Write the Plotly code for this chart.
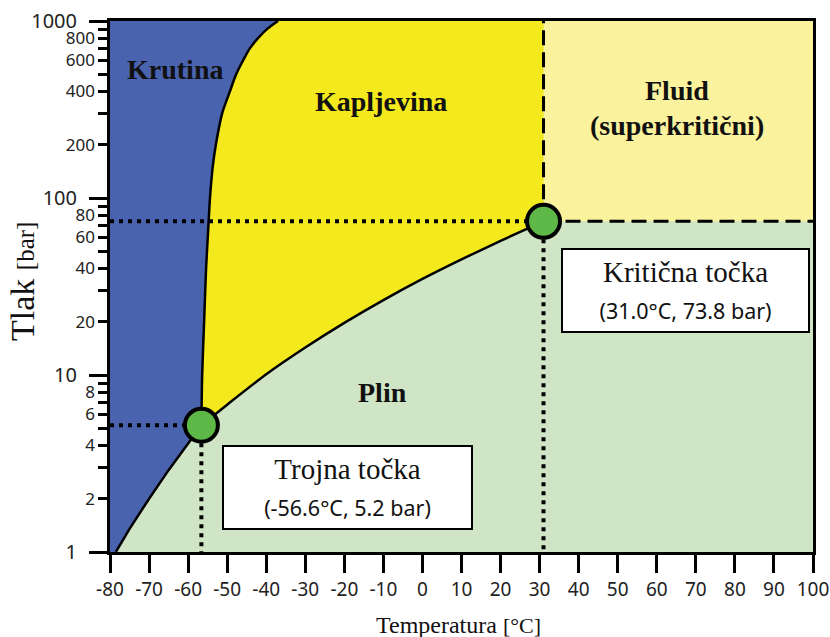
import plotly.graph_objects as go

# ---- data ----
T_MIN, T_MAX = -80, 100          # axis range, degC
P_MIN, P_MAX = 1, 1000           # axis range, bar

triple_T, triple_P = -56.6, 5.2
crit_T, crit_P = 31.0, 73.8

# solid-gas (sublimation) boundary
sub_T = [-78.5, -75, -70, -65, -60, -56.6]
sub_P = [1.0, 1.35, 2.0, 2.9, 4.1, 5.2]

# solid-liquid (melting) boundary
melt_T = [-56.6, -56.4, -55.9, -55.4, -54.8, -54.4, -53.7, -52.9, -51.3, -49.3, -47.7,
          -45.9, -44.2, -42.1, -39.8, -37.0]
melt_P = [5.2, 10, 20, 40, 70, 100, 150, 200, 300, 400, 500, 600, 700, 800, 900, 1000]

# liquid-gas (vapour pressure) boundary
vap_T = [-56.6, -50, -40, -30, -20, -10, 0, 10, 20, 31.0]
vap_P = [5.2, 6.8, 10.1, 14.3, 19.7, 26.5, 34.9, 45.0, 57.3, 73.8]

x_ticks = list(range(-80, 101, 10))
x_tick_text = [str(v) for v in x_ticks]          # plain hyphen-minus as in the reference
y_minor_ticks = [m * 10 ** d for d in range(3) for m in range(2, 10)]
y_minor_labels = [m * 10 ** d for d in range(3) for m in (2, 4, 6, 8)]
y_decades = [1, 10, 100, 1000]

# ---- colours ----
C_SOLID = "#4a63ae"
C_LIQ = "#f4e91c"
C_FLUID = "#faf29c"
C_GAS = "#cfe5c5"
C_PT = "#5eb847"

# ---- layout geometry (pixels) ----
W, H = 830, 637
ML, MR, MT, MB = 80, 17, 21, 85
PW, PH = W - ML - MR, H - MT - MB
PLOT_LEFT = 110                    # left edge of the plotting area
X_DOMAIN0 = (PLOT_LEFT - ML) / PW


def px_x(px):
    return (px - ML) / PW


def px_y(py):
    return (H - MB - py) / PH


fig = go.Figure()

# fluid region
fig.add_trace(go.Scatter(x=[crit_T, T_MAX, T_MAX, crit_T], y=[crit_P, crit_P, P_MAX, P_MAX],
                         fill="toself", fillcolor=C_FLUID, mode="none", hoverinfo="skip"))
# liquid region
fig.add_trace(go.Scatter(x=melt_T + [crit_T] + vap_T[::-1], y=melt_P + [P_MAX] + vap_P[::-1],
                         fill="toself", fillcolor=C_LIQ, mode="none", hoverinfo="skip"))
# solid region
fig.add_trace(go.Scatter(x=[T_MIN] + sub_T + melt_T[1:] + [T_MIN],
                         y=[P_MIN] + sub_P + melt_P[1:] + [P_MAX],
                         fill="toself", fillcolor=C_SOLID, mode="none", hoverinfo="skip"))

DOT = dict(color="black", width=4, dash="4px,5px")
DASH = dict(color="black", width=3, dash="15px,7px")

# dotted guide lines
fig.add_trace(go.Scatter(x=[T_MIN, crit_T], y=[crit_P, crit_P], mode="lines", line=DOT))
fig.add_trace(go.Scatter(x=[crit_T, crit_T], y=[crit_P, P_MIN], mode="lines", line=DOT))
fig.add_trace(go.Scatter(x=[T_MIN, triple_T], y=[triple_P, triple_P], mode="lines", line=DOT))
fig.add_trace(go.Scatter(x=[triple_T, triple_T], y=[triple_P, P_MIN], mode="lines", line=DOT))
# dashed supercritical limits
fig.add_trace(go.Scatter(x=[crit_T, crit_T], y=[crit_P, P_MAX], mode="lines", line=DASH))
fig.add_trace(go.Scatter(x=[crit_T, T_MAX], y=[crit_P, crit_P], mode="lines", line=DASH))

# phase boundaries
BL = dict(color="black", width=2.5)
fig.add_trace(go.Scatter(x=sub_T, y=sub_P, mode="lines", line=BL))
fig.add_trace(go.Scatter(x=melt_T, y=melt_P, mode="lines", line=dict(BL, shape="spline", smoothing=0.8)))
fig.add_trace(go.Scatter(x=vap_T, y=vap_P, mode="lines", line=dict(BL, shape="spline", smoothing=0.6)))

# triple and critical points
fig.add_trace(go.Scatter(x=[triple_T, crit_T], y=[triple_P, crit_P], mode="markers",
                         marker=dict(size=33, color=C_PT, line=dict(color="black", width=4)),
                         cliponaxis=False))

# axis used only for the 2-4-6-8 labels
fig.add_trace(go.Scatter(x=[None], y=[None], yaxis="y2", showlegend=False))

SERIF = "Liberation Serif, Times New Roman, serif"
SANS = "Noto Sans, Open Sans, sans-serif"

region = dict(family=SERIF, size=28, color="#111")
box_font = dict(family=SERIF, size=29, color="#111")
sub = "<br><span style='font-family:Noto Sans;font-size:21.5px'>{}</span>"
annots = [
    dict(x=px_x(175), y=px_y(69), text="<b>Krutina</b>", font=region),
    dict(x=px_x(381), y=px_y(101), text="<b>Kapljevina</b>", font=region),
    dict(x=px_x(677), y=px_y(90), text="<b>Fluid</b>", font=region),
    dict(x=px_x(677), y=px_y(126), text="<b>(superkritični)</b>", font=region),
    dict(x=px_x(382), y=px_y(392), text="<b>Plin</b>", font=region),
    dict(x=px_x(347.5), y=px_y(487.5), width=247, height=81, borderpad=0, borderwidth=2,
         bordercolor="black", bgcolor="white",
         text="Trojna točka" + sub.format("(-56.6°C, 5.2 bar)"), font=box_font),
    dict(x=px_x(685), y=px_y(290.5), width=245, height=81, borderpad=0, borderwidth=2,
         bordercolor="black", bgcolor="white",
         text="Kritična točka" + sub.format("(31.0°C, 73.8 bar)"), font=box_font),
    dict(x=px_x(22), y=px_y(282), textangle=-90,
         text="Tlak <span style='font-size:25px'>[bar]</span>",
         font=dict(family=SERIF, size=34, color="#111")),
    dict(x=px_x(458), y=px_y(625),
         text="Temperatura <span style='font-size:22px'>[°C]</span>",
         font=dict(family=SERIF, size=24, color="#111")),
]
for a in annots:
    a.update(xref="paper", yref="paper", showarrow=False, xanchor="center", yanchor="middle")

fig.update_layout(
    width=W, height=H,
    margin=dict(l=ML, r=MR, t=MT, b=MB, autoexpand=False),
    paper_bgcolor="white", plot_bgcolor=C_GAS,
    showlegend=False,
    annotations=annots,
    xaxis=dict(domain=[X_DOMAIN0, 1], range=[T_MIN, T_MAX], tickvals=x_ticks, ticktext=x_tick_text,
               ticks="outside", ticklen=18, tickwidth=3, automargin=False,
               tickcolor="black", showline=True, linecolor="black", linewidth=3, mirror=True,
               showgrid=False, zeroline=False, ticklabelstandoff=0,
               tickfont=dict(family=SANS, size=19, color="#222")),
    yaxis=dict(type="log", range=[0, 3], tickvals=y_decades, ticktext=[str(v) for v in y_decades],
               ticks="outside", ticklen=18, tickwidth=3, tickcolor="black", automargin=False,
               showline=True, linecolor="black", linewidth=3, mirror=True,
               showgrid=False, zeroline=False, ticklabelstandoff=8,
               tickfont=dict(family=SANS, size=20, color="#222"),
               minor=dict(tickvals=y_minor_ticks, ticks="outside", ticklen=9, tickwidth=3,
                          tickcolor="black", showgrid=False)),
    yaxis2=dict(type="log", range=[0, 3], overlaying="y", side="left", anchor="free",
                position=px_x(95),
                tickvals=y_minor_labels, ticktext=[str(v) for v in y_minor_labels],
                ticks="", showgrid=False, zeroline=False, showline=False,
                automargin=False,
                tickfont=dict(family=SANS, size=17, color="#222")),
)

fig.write_html("out.html", config={"displayModeBar": False},
               post_script="document.body.style.margin='0';")
